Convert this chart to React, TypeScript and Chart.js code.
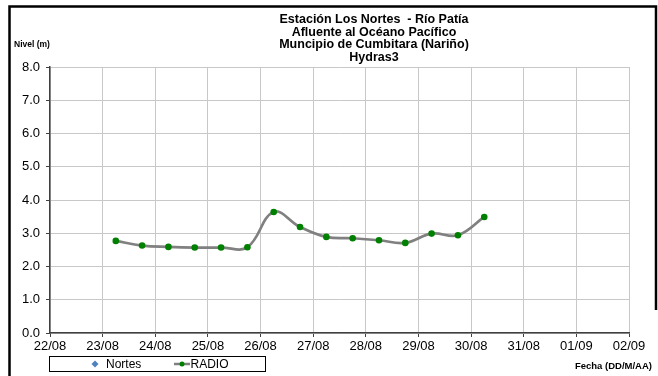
import React, { useEffect, useRef } from "react";
import { Chart, registerables } from "chart.js";

Chart.register(...registerables);

const titleLines = [
  "Estación Los Nortes  - Río Patía",
  "Afluente al Océano Pacífico",
  "Muncipio de Cumbitara (Nariño)",
  "Hydras3",
];
const yAxisTitle = "Nivel (m)";
const xAxisTitle = "Fecha (DD/M/AA)";

const xTickLabels = [
  "22/08", "23/08", "24/08", "25/08", "26/08", "27/08",
  "28/08", "29/08", "30/08", "31/08", "01/09", "02/09",
];

const radioTimes = [
  "23/08 06:00", "23/08 18:00", "24/08 06:00", "24/08 18:00",
  "25/08 06:00", "25/08 18:00", "26/08 06:00", "26/08 18:00",
  "27/08 06:00", "27/08 18:00", "28/08 06:00", "28/08 18:00",
  "29/08 06:00", "29/08 18:00", "30/08 06:00",
];
const radioLevels = [
  2.77, 2.63, 2.59, 2.57, 2.57, 2.58, 3.64, 3.19,
  2.89, 2.85, 2.79, 2.71, 2.99, 2.94, 3.49,
];
const nortesLevels: { x: number; y: number }[] = [];

const yMin = 0;
const yMax = 8;

// days since 22/08 00:00
function toDayOffset(s: string): number {
  const [date, time] = s.split(" ");
  const [dd, mm] = date.split("/").map(Number);
  const [hh, mi] = (time || "00:00").split(":").map(Number);
  const day = mm === 8 ? dd - 22 : dd + 9;
  return day + (hh + mi / 60) / 24;
}

const FONT = "'Liberation Sans', Arial, Helvetica, sans-serif";

const decorPlugin = {
  id: "decor",
  beforeDraw(chart: any) {
    const ctx = chart.ctx;
    ctx.save();
    ctx.fillStyle = "#ffffff";
    ctx.fillRect(0, 0, chart.width, chart.height);
    ctx.restore();
  },
  afterDraw(chart: any) {
    const ctx = chart.ctx;
    ctx.save();
    // outer frame
    ctx.strokeStyle = "#000000";
    ctx.lineWidth = 2.5;
    ctx.beginPath();
    ctx.moveTo(9.5, 376);
    ctx.lineTo(9.5, 6.5);
    ctx.lineTo(656, 6.5);
    ctx.lineTo(656, 310);
    ctx.stroke();

    // title
    ctx.fillStyle = "#000000";
    ctx.font = `bold 12.5px ${FONT}`;
    ctx.textAlign = "center";
    ctx.textBaseline = "middle";
    titleLines.forEach((t, i) => {
      ctx.fillText(t, 374, 20 + i * 12.5);
    });

    // axis titles
    ctx.font = `bold 8.5px ${FONT}`;
    ctx.textAlign = "left";
    ctx.fillText(yAxisTitle, 14, 45);
    ctx.font = `bold 9.5px ${FONT}`;
    ctx.textAlign = "right";
    ctx.fillText(xAxisTitle, 652, 366);

    // legend
    const bx = 49.5, by = 356.5, bw = 216, bh = 15;
    ctx.fillStyle = "#ffffff";
    ctx.fillRect(bx, by, bw, bh);
    ctx.strokeStyle = "#000000";
    ctx.lineWidth = 1;
    ctx.strokeRect(bx, by, bw, bh);
    const cy = by + bh / 2;
    const ds = chart.data.datasets;
    // Nortes: diamond
    ctx.fillStyle = ds[0].backgroundColor;
    ctx.beginPath();
    ctx.moveTo(95, cy - 3.5);
    ctx.lineTo(98.5, cy);
    ctx.lineTo(95, cy + 3.5);
    ctx.lineTo(91.5, cy);
    ctx.closePath();
    ctx.fill();
    ctx.fillStyle = "#000000";
    ctx.font = `12px ${FONT}`;
    ctx.textAlign = "left";
    ctx.fillText(ds[0].label, 106, cy + 0.5);
    // RADIO: line + dot
    ctx.strokeStyle = ds[1].borderColor;
    ctx.lineWidth = 2.5;
    ctx.beginPath();
    ctx.moveTo(174, cy);
    ctx.lineTo(190, cy);
    ctx.stroke();
    ctx.fillStyle = ds[1].pointBackgroundColor;
    ctx.beginPath();
    ctx.arc(182, cy, 2.5, 0, Math.PI * 2);
    ctx.fill();
    ctx.fillStyle = "#000000";
    ctx.fillText(ds[1].label, 190.5, cy + 0.5);
    ctx.restore();
  },
};

export default function App() {
  const canvasRef = useRef<HTMLCanvasElement | null>(null);

  useEffect(() => {
    if (!canvasRef.current) return;
    const radioData = radioTimes.map((t, i) => ({ x: toDayOffset(t), y: radioLevels[i] }));
    const chart = new Chart(canvasRef.current, {
      type: "line",
      data: {
        datasets: [
          {
            label: "Nortes",
            data: nortesLevels,
            borderColor: "#4f81bd",
            backgroundColor: "#4f81bd",
            pointStyle: "rectRot",
            showLine: false,
          },
          {
            label: "RADIO",
            data: radioData,
            borderColor: "#808080",
            backgroundColor: "#808080",
            borderWidth: 2.7,
            tension: 0.4,
            pointRadius: 3.3,
            pointBackgroundColor: "#008000",
            pointBorderColor: "#008000",
            pointBorderWidth: 0,
          },
        ],
      },
      options: {
        animation: false,
        responsive: false,
        layout: { padding: { left: 0, right: 29, top: 67, bottom: 0 } },
        plugins: {
          legend: { display: false },
          title: { display: false },
          tooltip: { enabled: false },
        },
        scales: {
          x: {
            type: "linear",
            min: 0,
            max: xTickLabels.length - 1,
            afterFit: (s: any) => { s.height = 43; },
            ticks: {
              stepSize: 1,
              autoSkip: false,
              maxRotation: 0,
              padding: 2,
              color: "#000000",
              font: { family: FONT, size: 13 },
              callback: (v: any) => xTickLabels[Math.round(Number(v))] ?? "",
            },
            grid: { color: "#c8c8c8", lineWidth: 1, tickLength: 4, tickColor: "#404040" },
            border: { color: "#404040", width: 1.5 },
          },
          y: {
            type: "linear",
            min: yMin,
            max: yMax,
            afterFit: (s: any) => { s.width = 50; },
            ticks: {
              stepSize: 1,
              padding: 6,
              color: "#000000",
              font: { family: FONT, size: 13 },
              callback: (v: any) => Number(v).toFixed(1),
            },
            grid: { color: "#c8c8c8", lineWidth: 1, tickLength: 4, tickColor: "#404040" },
            border: { color: "#404040", width: 1.5 },
          },
        },
      } as any,
      plugins: [decorPlugin],
    });
    return () => chart.destroy();
  }, []);

  return (
    <div style={{ position: "absolute", left: 0, top: 0, width: 658, height: 376 }}>
      <canvas ref={canvasRef} width={658} height={376} style={{ width: 658, height: 376, display: "block" }} />
    </div>
  );
}
